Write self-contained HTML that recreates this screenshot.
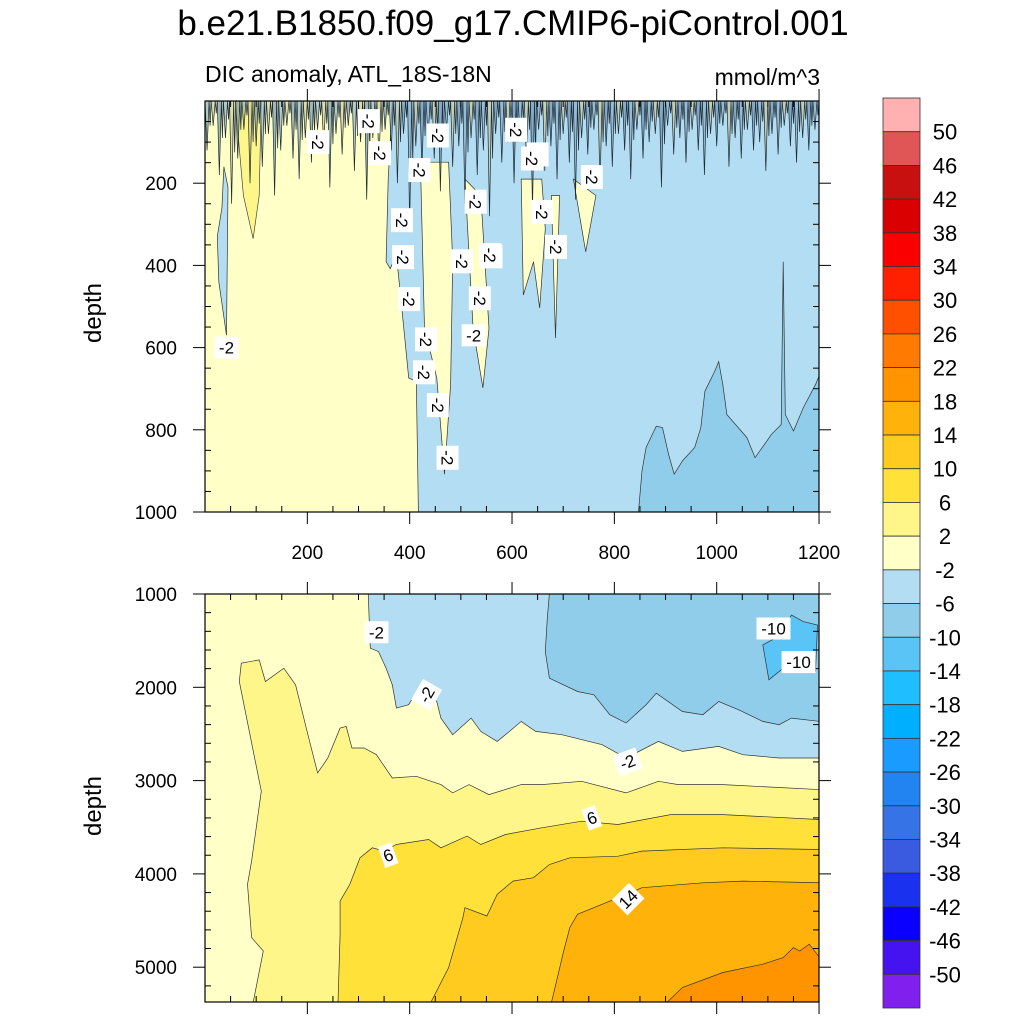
<!DOCTYPE html>
<html><head><meta charset="utf-8"><style>
html,body{margin:0;padding:0;background:#fff;}
svg{display:block;font-family:"Liberation Sans",sans-serif;}
</style></head><body>
<svg id="c" width="1024" height="1024" viewBox="0 0 1024 1024" xmlns="http://www.w3.org/2000/svg">
<text x="513" y="35" font-size="35" text-anchor="middle">b.e21.B1850.f09_g17.CMIP6-piControl.001</text>
<text x="205" y="82" font-size="23">DIC anomaly, ATL_18S-18N</text>
<text x="820" y="85" font-size="23" text-anchor="end">mmol/m^3</text>
<text transform="translate(101,313) rotate(-90)" font-size="24" text-anchor="middle">depth</text>
<text transform="translate(101,806) rotate(-90)" font-size="24" text-anchor="middle">depth</text>
<defs>
<clipPath id="clipTop"><rect x="205" y="101" width="614" height="411"/></clipPath>
<clipPath id="clipBot"><rect x="205" y="594" width="614" height="408"/></clipPath>
</defs>
<g id="top" clip-path="url(#clipTop)"></g>
<g id="bot" clip-path="url(#clipBot)"></g>
<g id="axes"></g>
<g id="labels"></g>
<g id="cbar"></g>
</svg>
<script>
// ---------- data ----------
const cbLabels = [50,46,42,38,34,30,26,22,18,14,10,6,2,-2,-6,-10,-14,-18,-22,-26,-30,-34,-38,-42,-46,-50];
const cbColors = ["#FFB0B0","#E05555","#C81010","#D80000","#FA0000","#FF2000","#FF5000","#FF7A00","#FF9400","#FFB20A","#FFCB1E","#FFE13A","#FFF68A","#FFFFC8","#B3DDF2","#8FCDEB","#5AC4F6","#1FBFFF","#00B0FF","#1A9BFF","#2284F0","#3573E6","#3A5AE0","#1A32F0","#0A00FF","#4512F0","#8020EE"];
const xTicks = [200,400,600,800,1000,1200];
const topYTicks = [200,400,600,800,1000];
const botYTicks = [1000,2000,3000,4000,5000];

// lower panel contours (year, depth)
const c2Year  = [94,114,91,83,91,110,67,71,106,118,154,177,201,220,240,264,276,287,311,335,366,413,461,484,516,555,618,658,736,823,886,925,1012,1201];
const c2Depth = [5380,4826,4683,4113,3863,3114,1938,1742,1706,1938,1795,1974,2508,2918,2758,2437,2419,2651,2651,2722,2972,2954,3043,3132,3043,3150,3043,3043,3007,3132,3007,3043,3043,3096];
const c6Year  = [260,264,264,283,303,327,350,374,437,461,512,539,587,658,736,807,910,1012,1201];
const c6Depth = [5380,4647,4291,4113,3827,3720,3756,3685,3631,3720,3595,3685,3578,3506,3435,3471,3364,3364,3417];
const c10Year  = [441,476,504,508,551,571,602,642,673,713,807,854,1012,1201];
const c10Depth = [5380,5004,4469,4362,4451,4219,4077,4041,3899,3827,3810,3756,3720,3738];
const c14Year  = [677,701,713,728,776,854,973,1051,1201];
const c14Depth = [5380,4826,4576,4433,4326,4148,4095,4077,4095];
const c18Year  = [902,933,1012,1090,1130,1150,1162,1181,1201];
const c18Depth = [5380,5218,5057,4968,4897,4790,4826,4754,4897];
const cm2Year  = [319,323,339,354,366,374,398,421,453,461,484,520,539,571,595,618,646,697,776,823,886,933,1004,1051,1122,1201];
const cm2Depth = [995,1581,1617,1795,1974,2223,2187,1974,2152,2330,2508,2330,2473,2580,2473,2366,2473,2508,2615,2758,2580,2687,2633,2722,2758,2758];
const cm6Year  = [673,669,665,673,728,760,791,823,862,882,933,973,1004,1043,1090,1122,1146,1201];
const cm6Depth = [995,1261,1617,1902,2045,2080,2294,2383,2187,2063,2259,2294,2152,2241,2366,2401,2330,2366];
const cm10Year  = [1090,1102,1130,1193,1197,1169,1146,1126];
const cm10Depth = [1546,1920,1795,1831,1332,1296,1225,1439];

// upper panel contours
const yBoundYear  = [366,358,354,362,374,382,398,413,417];
const yBoundDepth = [0,190,391,408,375,472,674,682,1002];
const finger1Year = [421,429,453,468,480,484,476];
const finger1Depth= [149,553,674,908,690,391,149];
const finger2Year = [508,524,543,555,539];
const finger2Depth= [190,553,698,553,230];
const finger3Year = [618,622,642,654,665,658];
const finger3Depth= [190,472,391,504,311,190];
const finger4Year = [677,685,693];
const finger4Depth= [230,577,230];
const finger5Year = [720,744,764];
const finger5Depth= [190,367,230];
const warmYear  = [59,75,94,106,110];
const warmDepth = [0,230,335,230,0];
const stripYear  = [24,27,42,45,37,33];
const stripDepth = [330,440,570,210,160,260];
const deepYear  = [847,854,862,882,894,906,917,933,957,969,977,996,1004,1012,1020,1059,1075,1107,1126,1130,1134,1150,1169,1193,1201];
const deepDepth = [1002,900,843,791,795,860,908,876,843,795,706,658,634,690,763,819,868,811,787,391,763,803,747,690,666];
// near-surface noisy spikes (depth reached by each spike, every 12 years)
const spikeDepth = [120,60,180,90,250,140,70,200,110,160,80,230,120,60,140,190,90,150,70,110,210,80,130,60,170,100,240,90,150,70,
  120,200,80,300,110,170,90,140,220,70,160,110,250,90,180,120,280,80,150,100,200,90,140,260,70,170,110,190,80,150,
  240,90,130,70,200,110,160,80,120,190,70,140,100,80,210,60,130,90,150,70,120,180,80,110,60,160,90,140,70,120,
  100,170,80,130,60,110,150,90,120,70];

// contour labels (year, depth, rotation)
const topLblYear  = [221,320,342,419,455,385,387,399,432,428,455,474,529,560,537,525,502,557,608,650,639,659,756,686,42];
const topLblDepth = [100,49,127,168,84,290,380,482,580,660,740,868,245,378,480,570,390,375,70,130,140,270,185,355,600];
const topLblRot   = [90,90,90,90,90,90,90,90,90,90,90,90,90,90,90,0,90,90,90,90,90,90,90,90,0];
const botLblYear  = [335,433,826,358,756,827,1111,1160];
const botLblDepth = [1410,2080,2800,3800,3400,4270,1370,1730];
const botLblText  = ["-2","-2","-2","6","6","14","-10","-10"];
const botLblRot   = [0,-60,-20,-20,-20,-45,0,0];

// ---------- scales ----------
const X = y => 205 + y*0.5117;
const Dt = d => 101 + d*0.411;
const Db = d => 594 + (d-1000)*0.0933;
const NS = "http://www.w3.org/2000/svg";
function mk(tag, parent){const e=document.createElementNS(NS,tag);parent.appendChild(e);return e;}
const topG=document.getElementById('top'), botG=document.getElementById('bot'), axG=document.getElementById('axes'), lblG=document.getElementById('labels'), cbG=document.getElementById('cbar');
function pts(ys, ds, D){return ys.map((y,i)=>X(y).toFixed(1)+","+D(ds[i]).toFixed(1));}
function poly(parent, p, fill, stroke){const e=mk('polygon',parent);e.setAttribute('points',p.join(' '));e.setAttribute('fill',fill);e.setAttribute('stroke',stroke||'none');e.setAttribute('stroke-width','0.7');return e;}
function line(parent, p){const e=mk('polyline',parent);e.setAttribute('points',p.join(' '));e.setAttribute('fill','none');e.setAttribute('stroke','#333');e.setAttribute('stroke-width','0.7');return e;}
const col = v => cbColors[13 - Math.round(v/4)];

// ---------- lower panel ----------
let r=mk('rect',botG);r.setAttribute('x',205);r.setAttribute('y',594);r.setAttribute('width',614);r.setAttribute('height',408);r.setAttribute('fill',col(0));


const lowerBands=[[c2Year,c2Depth,4,'band-2-6'],[c6Year,c6Depth,8,'band-6-10'],[c10Year,c10Depth,12,'band-10-14'],[c14Year,c14Depth,16,'band-14-18'],[c18Year,c18Depth,20,'band-18-22']];
lowerBands.forEach(b=>{
  const p=pts(b[0],b[1],Db); p.push(X(1210)+","+Db(5400));
  const e=poly(botG,p,col(b[2]),'none');
  
  
  const l=line(botG,pts(b[0],b[1],Db));
  
  
});
[[cm2Year,cm2Depth,-4,'band-m6-m2'],[cm6Year,cm6Depth,-8,'band-m10-m6']].forEach(b=>{
  const p=pts(b[0],b[1],Db); p.push(X(1210)+","+Db(b[1][b[1].length-1])); p.push(X(1210)+","+Db(990));
  const e=poly(botG,p,col(b[2]),'none');
  
  
  const l=line(botG,pts(b[0],b[1],Db));
  
  
});
{const e=poly(botG,pts(cm10Year,cm10Depth,Db),col(-12),'#333');

}

// ---------- upper panel ----------
r=mk('rect',topG);r.setAttribute('x',205);r.setAttribute('y',101);r.setAttribute('width',614);r.setAttribute('height',411);r.setAttribute('fill',col(-4));


{const p=pts(yBoundYear,yBoundDepth,Dt);p.push(X(-5)+","+Dt(1010));p.push(X(-5)+","+Dt(-5));
const e=poly(topG,p,col(0),'none');


const l=line(topG,pts(yBoundYear,yBoundDepth,Dt));

}
[[finger1Year,finger1Depth],[finger2Year,finger2Depth],[finger3Year,finger3Depth],[finger4Year,finger4Depth],[finger5Year,finger5Depth]].forEach(f=>{
  const e=poly(topG,pts(f[0],f[1],Dt),col(0),'#333');
  
  
});
{const e=poly(topG,pts(warmYear,warmDepth,Dt),col(4),'#444');

}
{const e=poly(topG,pts(stripYear,stripDepth,Dt),col(-4),'#333');

}
{const p=pts(deepYear,deepDepth,Dt);p.push(X(1210)+","+Dt(666));p.push(X(1210)+","+Dt(1010));
const e=poly(topG,p,col(-8),'none');


const l=line(topG,pts(deepYear,deepDepth,Dt));

}
spikeDepth.forEach((d,i)=>{
  const y=i*12+4;
  const e=mk('polyline',topG);
  e.setAttribute('points',X(y-4)+","+Dt(0)+" "+X(y)+","+Dt(d)+" "+X(y+4)+","+Dt(0)+" "+X(y+6)+","+Dt(d*0.5)+" "+X(y+8)+","+Dt(0));
  e.setAttribute('fill', (i%3===0)? '#7fa8c2' : (i%3===1 ? '#c8c690' : '#5f8ba8'));
  e.setAttribute('fill-opacity','0.6');
  e.setAttribute('stroke','#1f2a35');e.setAttribute('stroke-width','0.7');
  
  
});

// ---------- contour labels ----------
function lbl(x,y,t,rot){
  const g=mk('g',lblG);g.setAttribute('transform',`translate(${x},${y}) rotate(${rot})`);
  
  
  const w=t.length*10+4;
  const b=mk('rect',g);b.setAttribute('x',-w/2);b.setAttribute('y',-11);b.setAttribute('width',w);b.setAttribute('height',22);b.setAttribute('fill','#fff');
  const s=mk('text',g);s.setAttribute('x',0);s.setAttribute('y',6);s.setAttribute('font-size','17');s.setAttribute('text-anchor','middle');s.textContent=t;
}
topLblYear.forEach((y,i)=>lbl(X(y),Dt(topLblDepth[i]),'-2',topLblRot[i]));
botLblYear.forEach((y,i)=>lbl(X(y),Db(botLblDepth[i]),botLblText[i],botLblRot[i]));

// ---------- axes ----------
function seg(x1,y1,x2,y2,w){const e=mk('line',axG);e.setAttribute('x1',x1);e.setAttribute('y1',y1);e.setAttribute('x2',x2);e.setAttribute('y2',y2);e.setAttribute('stroke','#000');e.setAttribute('stroke-width',w||1);return e;}
function txt(x,y,t,anchor){const e=mk('text',axG);e.setAttribute('x',x);e.setAttribute('y',y);e.setAttribute('font-size','19');e.setAttribute('text-anchor',anchor);e.textContent=t;return e;}
function frame(y0,y1){const e=mk('rect',axG);e.setAttribute('x',205);e.setAttribute('y',y0);e.setAttribute('width',614);e.setAttribute('height',y1-y0);e.setAttribute('fill','none');e.setAttribute('stroke','#000');e.setAttribute('stroke-width','1.2');}
[[101,512],[594,1002]].forEach(([y0,y1])=>{
  frame(y0,y1);
  for(let yr=0;yr<=1200;yr+=50){
    const x=X(yr);
    if(yr%200===0 && yr>0){seg(x,y0,x,y0-12);seg(x,y1,x,y1+12);}
    else{seg(x,y0,x,y0+6);seg(x,y1,x,y1-6);}
  }
});
for(let d=50;d<=1000;d+=50){const y=Dt(d);
  if(d%200===0){seg(193,y,205,y);seg(819,y,831,y);}else{seg(205,y,211,y);seg(813,y,819,y);}}
topYTicks.forEach(d=>txt(177,Dt(d)+7,String(d),'end'));
xTicks.forEach(yr=>txt(X(yr),559,String(yr),'middle'));
for(let d=1000;d<=5364;d+=200){const y=Db(d);
  if(d%1000===0){seg(193,y,205,y);seg(819,y,831,y);}else{seg(205,y,211,y);seg(813,y,819,y);}}
botYTicks.forEach(d=>txt(177,Db(d)+7,String(d),'end'));

// ---------- colorbar ----------
const cbTop=98, cbH=(1008-98)/cbColors.length;
cbColors.forEach((c,i)=>{
  const e=mk('rect',cbG);e.setAttribute('x',883);e.setAttribute('y',cbTop+i*cbH);e.setAttribute('width',37);e.setAttribute('height',cbH);
  e.setAttribute('fill',c);e.setAttribute('stroke','#333');e.setAttribute('stroke-width','0.8');
  
  
});
cbLabels.forEach((v,i)=>{
  const e=mk('text',cbG);e.setAttribute('x',945);e.setAttribute('y',cbTop+(i+1)*cbH+8);e.setAttribute('font-size','22');e.setAttribute('text-anchor','middle');e.textContent=String(v);
  
  
});
</script>
</body></html>
